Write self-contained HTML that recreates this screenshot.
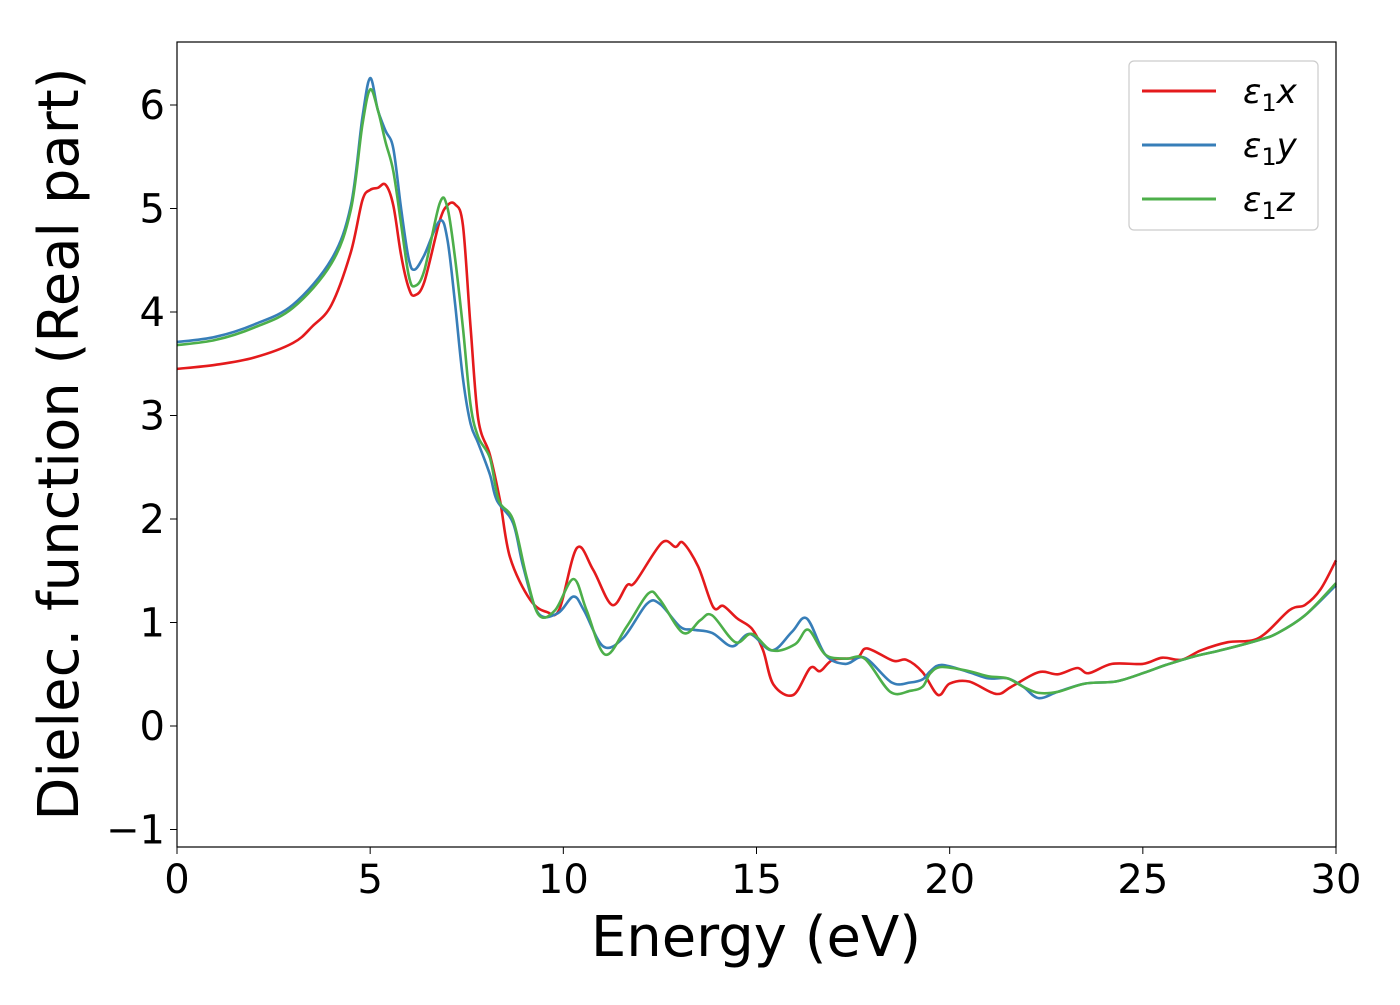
<!DOCTYPE html>
<html><head><meta charset="utf-8"><style>
body{margin:0;background:#fff}
svg text{font-family:"DejaVu Sans","Liberation Sans",sans-serif;fill:#000}
</style></head><body>
<svg id="chart" width="1400" height="1000" viewBox="0 0 1400 1000" xmlns="http://www.w3.org/2000/svg">
<rect width="1400" height="1000" fill="#fff"/>
<g id="series"></g>
<rect x="177" y="42" width="1159" height="805" fill="none" stroke="#000" stroke-width="1.2"/>
<g id="ticks"></g>
<text x="756" y="956" font-size="56" text-anchor="middle">Energy (eV)</text>
<text transform="translate(78,444) rotate(-90)" font-size="56" text-anchor="middle">Dielec. function (Real part)</text>
<g>
<rect x="1129" y="61" width="189" height="169" rx="5" fill="#fff" stroke="#ccc" stroke-width="1.2"/>
<line x1="1142" y1="91" x2="1216" y2="91" stroke="#e41a1c" stroke-width="3"/>
<text x="1243" y="103" font-size="34" font-style="italic">ε<tspan font-size="24" dy="8" font-style="normal">1</tspan><tspan dy="-8">x</tspan></text>
<line x1="1142" y1="145" x2="1216" y2="145" stroke="#377eb8" stroke-width="3"/>
<text x="1243" y="157" font-size="34" font-style="italic">ε<tspan font-size="24" dy="8" font-style="normal">1</tspan><tspan dy="-8">y</tspan></text>
<line x1="1142" y1="199" x2="1216" y2="199" stroke="#4daf4a" stroke-width="3"/>
<text x="1243" y="211" font-size="34" font-style="italic">ε<tspan font-size="24" dy="8" font-style="normal">1</tspan><tspan dy="-8">z</tspan></text>
</g>
</svg>
<script>
const xTicks=[0,5,10,15,20,25,30];
const yTicks=[-1,0,1,2,3,4,5,6];
const yTickLabels=["\u22121","0","1","2","3","4","5","6"];
const redE=[0,1,2,3,3.5,4,4.5,4.8,5.0,5.2,5.4,5.6,5.8,6.0,6.15,6.4,6.8,7.0,7.2,7.4,7.6,7.8,8.1,8.36,8.62,9.14,9.58,9.9,10.35,10.77,11.26,11.65,11.86,12.55,12.9,13.1,13.49,13.88,14.14,14.5,14.88,15.17,15.44,15.95,16.39,16.65,16.98,17.6,17.86,18.54,18.88,19.3,19.7,20.0,20.5,21.2,21.6,22.3,22.8,23.3,23.6,24.2,25.0,25.5,26.0,26.5,27.2,28.0,28.8,29.2,29.6,30];
const redV=[3.45,3.49,3.56,3.70,3.86,4.07,4.58,5.08,5.18,5.20,5.23,5.03,4.55,4.23,4.16,4.29,4.88,5.03,5.04,4.84,3.85,2.96,2.62,2.18,1.63,1.22,1.10,1.13,1.72,1.51,1.17,1.36,1.39,1.77,1.73,1.77,1.54,1.15,1.16,1.04,0.94,0.73,0.40,0.30,0.56,0.53,0.64,0.66,0.75,0.63,0.64,0.52,0.30,0.41,0.43,0.31,0.38,0.52,0.50,0.56,0.51,0.60,0.60,0.66,0.64,0.73,0.81,0.85,1.12,1.17,1.32,1.6];
const blueE=[0,1,2,3,4,4.5,4.8,5.0,5.2,5.4,5.6,5.8,6.0,6.15,6.4,6.8,7.0,7.2,7.4,7.6,7.8,8.1,8.28,8.7,8.96,9.35,9.86,10.26,10.53,11.03,11.55,12.16,12.5,13.02,13.36,13.85,14.37,14.83,15.4,15.92,16.3,16.78,17.3,17.8,18.5,18.98,19.3,19.5,19.8,20.5,21.0,21.5,21.9,22.3,22.8,23.5,24.3,25.0,25.6,26.3,27.0,28.0,28.5,29.2,30];
const blueV=[3.71,3.76,3.88,4.07,4.51,5.03,5.88,6.26,5.95,5.75,5.58,5.0,4.51,4.41,4.55,4.88,4.70,4.07,3.36,2.92,2.73,2.43,2.18,1.96,1.54,1.09,1.09,1.25,1.12,0.77,0.85,1.18,1.18,0.96,0.93,0.90,0.77,0.89,0.73,0.91,1.04,0.69,0.60,0.66,0.42,0.42,0.45,0.53,0.59,0.52,0.46,0.46,0.38,0.27,0.33,0.41,0.43,0.51,0.59,0.67,0.73,0.83,0.90,1.07,1.36];
const greenE=[0,1,2,3,4,4.5,4.8,5.0,5.2,5.4,5.6,5.8,6.0,6.15,6.4,6.8,7.0,7.2,7.4,7.6,7.8,8.1,8.33,8.7,9.05,9.37,9.79,10.26,10.6,11.08,11.64,12.2,12.5,13.1,13.54,13.85,14.45,14.88,15.4,16.0,16.34,16.78,17.3,17.8,18.46,18.98,19.3,19.5,19.8,20.5,21.0,21.5,21.9,22.3,22.8,23.5,24.3,25.0,25.6,26.3,27.0,28.0,28.5,29.2,30];
const greenV=[3.68,3.73,3.85,4.04,4.47,4.99,5.81,6.15,5.95,5.64,5.36,4.85,4.35,4.25,4.40,5.05,5.01,4.51,3.85,3.10,2.79,2.59,2.18,1.99,1.44,1.07,1.12,1.42,1.12,0.69,0.96,1.28,1.22,0.90,1.02,1.07,0.81,0.89,0.73,0.79,0.93,0.69,0.65,0.65,0.33,0.34,0.38,0.51,0.57,0.53,0.48,0.46,0.38,0.32,0.33,0.41,0.43,0.51,0.59,0.67,0.73,0.83,0.90,1.07,1.38];
const X0=177,X1=1336,Y0=726,YPU=103.5;
function sx(e){return X0+(X1-X0)*e/30;}
function sy(v){return Y0-v*YPU;}
const NS="http://www.w3.org/2000/svg";
function pathFrom(E,V){
  const p=E.map((e,i)=>[sx(e),sy(V[i])]);
  let d="M"+p[0][0].toFixed(1)+","+p[0][1].toFixed(1);
  for(let i=0;i<p.length-1;i++){
    const a=p[Math.max(0,i-1)],b=p[i],c=p[i+1],n=p[Math.min(p.length-1,i+2)];
    const c1=[b[0]+(c[0]-a[0])/6,b[1]+(c[1]-a[1])/6];
    const c2=[c[0]-(n[0]-b[0])/6,c[1]-(n[1]-b[1])/6];
    d+="C"+c1[0].toFixed(1)+","+c1[1].toFixed(1)+" "+c2[0].toFixed(1)+","+c2[1].toFixed(1)+" "+c[0].toFixed(1)+","+c[1].toFixed(1);
  }
  return d;
}
const g=document.getElementById("series");
[[redE,redV,"#e41a1c","line-eps1-x"],[blueE,blueV,"#377eb8","line-eps1-y"],[greenE,greenV,"#4daf4a","line-eps1-z"]].forEach(s=>{
  const el=document.createElementNS(NS,"path");
  el.setAttribute("d",pathFrom(s[0],s[1]));
  el.setAttribute("fill","none");el.setAttribute("stroke",s[2]);el.setAttribute("stroke-width","2.6");
  
  
  g.appendChild(el);
});
const t=document.getElementById("ticks");
xTicks.forEach(v=>{
  const l=document.createElementNS(NS,"line");
  l.setAttribute("x1",sx(v));l.setAttribute("x2",sx(v));l.setAttribute("y1",847);l.setAttribute("y2",854);l.setAttribute("stroke","#000");
  
  
  t.appendChild(l);
  const tx=document.createElementNS(NS,"text");
  tx.setAttribute("x",sx(v));tx.setAttribute("y",893);tx.setAttribute("font-size","40");tx.setAttribute("text-anchor","middle");
  tx.textContent=String(v);
  
  
  t.appendChild(tx);
});
yTicks.forEach((v,i)=>{
  const l=document.createElementNS(NS,"line");
  l.setAttribute("x1",170);l.setAttribute("x2",177);l.setAttribute("y1",sy(v));l.setAttribute("y2",sy(v));l.setAttribute("stroke","#000");
  
  
  t.appendChild(l);
  const tx=document.createElementNS(NS,"text");
  tx.setAttribute("x",165);tx.setAttribute("y",sy(v)+14);tx.setAttribute("font-size","40");tx.setAttribute("text-anchor","end");
  tx.textContent=yTickLabels[i];
  
  
  t.appendChild(tx);
});
</script>
</body></html>
